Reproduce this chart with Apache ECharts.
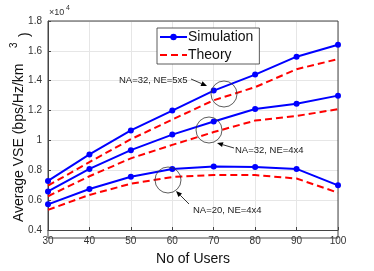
<!DOCTYPE html>
<html><head><meta charset="utf-8">
<script src="https://cdn.jsdelivr.net/npm/echarts@6/dist/echarts.min.js"></script>
<style>html,body{margin:0;padding:0;background:#fff}#c{width:374px;height:271px}</style>
</head><body><div id="c"></div>
<script>
const users = [30, 40, 50, 60, 70, 80, 90, 100];
const sim_32_5x5 = [7290, 9060, 10670, 12000, 13340, 14410, 15610, 16410];
const th_32_5x5  = [6970, 8550, 10080, 11400, 12690, 13570, 14770, 15450];
const sim_32_4x4 = [6580, 8090, 9350, 10390, 11270, 12110, 12450, 13000];
const th_32_4x4  = [6260, 7600, 8800, 9700, 10560, 11330, 11640, 12090];
const sim_20_4x4 = [5720, 6750, 7570, 8090, 8260, 8220, 8090, 6990];
const th_20_4x4  = [5350, 6350, 7100, 7550, 7680, 7680, 7450, 6500];
const yTicks = [4000, 6000, 8000, 10000, 12000, 14000, 16000, 18000];

const FONT = 'Liberation Sans';
const pair = (xs, ys) => xs.map((x, i) => [x, ys[i]]);
function simS(d){return {name:'Simulation',type:'line',data:pair(users,d),symbol:'circle',symbolSize:6,
  itemStyle:{color:'#0000ff'},lineStyle:{color:'#0000ff',width:2},z:3,animation:false};}
function thS(d){return {name:'Theory',type:'line',data:pair(users,d),symbol:'none',
  itemStyle:{color:'#ff0000'},lineStyle:{color:'#ff0000',width:2,type:[7,4]},z:2,animation:false};}

const chart = echarts.init(document.getElementById('c'));
const arrow = (x1,y1,x2,y2) => {
  const a = Math.atan2(y2-y1, x2-x1), L=6, W=2.5;
  const bx = x2 - L*Math.cos(a), by = y2 - L*Math.sin(a);
  return [
    {type:'line',shape:{x1:x1,y1:y1,x2:bx,y2:by},style:{stroke:'#000',lineWidth:0.8},z:10},
    {type:'polygon',shape:{points:[[x2,y2],[bx+W*Math.sin(a),by-W*Math.cos(a)],[bx-W*Math.sin(a),by+W*Math.cos(a)]]},style:{fill:'#000'},z:10}
  ];
};
const circ = (cx,cy,r) => ({type:'circle',shape:{cx:cx,cy:cy,r:r},style:{fill:'none',stroke:'#333',lineWidth:0.8},z:10});
const txt = (x,y,t,fs) => ({type:'text',x:x,y:y,style:{text:t,font:fs+'px '+FONT,fill:'#222'},z:10});

chart.setOption({
  animation:false,
  textStyle:{fontFamily:FONT},
  grid:{left:48,right:36,top:21,bottom:33,show:false},
  legend:{data:['Simulation',{name:'Theory',itemStyle:{opacity:0}}],orient:'vertical',left:157,top:28,
    itemWidth:27,itemHeight:8,itemGap:4,padding:[2,6,2,2],
    backgroundColor:'#fff',borderColor:'#333',borderWidth:0.8,borderRadius:0,
    textStyle:{fontFamily:FONT,fontSize:14,color:'#111',padding:[0,0,0,-4]},
    selectedMode:false},
  xAxis:{type:'value',min:30,max:100,interval:10,
    axisLine:{show:true,onZero:false,lineStyle:{color:'#444',width:1}},
    axisTick:{show:true,inside:true,length:3,lineStyle:{color:'#444'}},
    axisLabel:{fontSize:10,color:'#333',margin:6},
    splitLine:{show:true,lineStyle:{color:'#e6e6e6',width:1}},
    name:'No of Users',nameLocation:'middle',nameGap:22,
    nameTextStyle:{fontSize:14,color:'#111',fontFamily:FONT}},
  yAxis:{type:'value',min:4000,max:18000,interval:2000,
    axisLine:{show:true,onZero:false,lineStyle:{color:'#444',width:1}},
    axisTick:{show:true,inside:true,length:3,lineStyle:{color:'#444'}},
    axisLabel:{fontSize:10,color:'#333',margin:6,
      formatter:v => { const s=(v/10000); return s===1?'1':s.toFixed(1);} },
    splitLine:{show:true,lineStyle:{color:'#e6e6e6',width:1}}},
  series:[simS(sim_32_5x5),thS(th_32_5x5),simS(sim_32_4x4),thS(th_32_4x4),simS(sim_20_4x4),thS(th_20_4x4)],
  graphic:[
    {type:'rect',shape:{x:48,y:21,width:290,height:217},style:{fill:'none',stroke:'#444',lineWidth:1},z:1,silent:true},
    {type:'text',x:49,y:8,style:{text:'×10',font:'9px '+FONT,fill:'#333'},z:10},
    {type:'text',x:66,y:5,style:{text:'4',font:'7px '+FONT,fill:'#333'},z:10},
    {type:'text',x:12,y:222,rotation:Math.PI/2,style:{text:'Average VSE (bps/Hz/km',font:'14px '+FONT,fill:'#111'},z:10},
    {type:'text',x:9,y:48,rotation:Math.PI/2,style:{text:'3',font:'10px '+FONT,fill:'#111'},z:10},
    {type:'text',x:18,y:37,rotation:Math.PI/2,style:{text:')',font:'14px '+FONT,fill:'#111'},z:10},
    txt(119,75,'NA=32, NE=5x5',9.5),
    txt(235,145,'NA=32, NE=4x4',9.5),
    txt(193,205,'NA=20, NE=4x4',9.5),
    circ(224,94,13), circ(209,130,13), circ(168,180,13),
    ...arrow(191,79,207,86),
    ...arrow(234,148,217,143),
    ...arrow(189,204,176,191)
  ]
});
</script></body></html>
